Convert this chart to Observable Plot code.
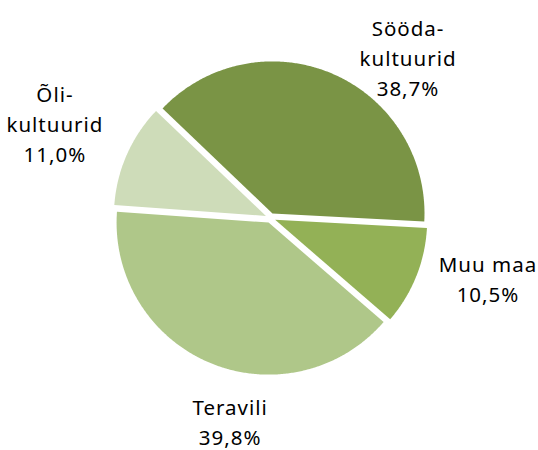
<!DOCTYPE html>
<html><head><meta charset="utf-8">
<script src="https://cdn.jsdelivr.net/npm/d3@7"></script>
<script src="https://cdn.jsdelivr.net/npm/@observablehq/plot@0.6"></script>
<style>body{margin:0;background:#fff}</style>
</head><body><div id="chart"></div>
<script>
// ---- data ----
const categories = ["Sööda-\nkultuurid", "Muu maa", "Teravili", "Õli-\nkultuurid"];
const shares = [38.7, 10.5, 39.8, 11.0];
const colors = ["#7A9445", "#93B156", "#AFC789", "#CEDCB9"];

// ---- layout ----
const W = 538, H = 450;
const cx = 270, cy = 217.5, R = 152;   // pie centre and radius, px
const startDeg = -46.3;                 // first slice start, clockwise from 12 o'clock
const explodePx = 5;
const labelPolar = [[40.66, 210.3], [105.7, 225.4], [191.3, 208.6], [293.4, 235.4]]; // [angle deg, radius px]

const rad = d => d * Math.PI / 180;
const total = d3.sum(shares);
let acc = startDeg;
const slices = shares.map((v, i) => {
  const a0 = acc, a1 = acc + v / total * 360; acc = a1;
  return {i, a0, a1, mid: (a0 + a1) / 2};
});

// outline vertices of each exploded slice (unit radius)
const outline = [];
for (const s of slices) {
  const ox = explodePx / R * Math.sin(rad(s.mid)), oy = explodePx / R * Math.cos(rad(s.mid));
  outline.push({cat: categories[s.i], x: ox, y: oy});
  const n = Math.ceil((s.a1 - s.a0) * 2);
  for (let k = 0; k <= n; k++) {
    const a = rad(s.a0 + (s.a1 - s.a0) * k / n);
    outline.push({cat: categories[s.i], x: ox + Math.sin(a), y: oy + Math.cos(a)});
  }
}

const fmt = v => v.toFixed(1).replace(".", ",") + "%";
const labels = slices.map(s => ({
  text: categories[s.i] + "\n" + fmt(shares[s.i]),
  x: Math.sin(rad(labelPolar[s.i][0])) * labelPolar[s.i][1] / R,
  y: Math.cos(rad(labelPolar[s.i][0])) * labelPolar[s.i][1] / R
}));

const chart = Plot.plot({
  width: W, height: H, margin: 0,
  style: {background: "white", fontFamily: "Noto Sans", letterSpacing: "1px"},
  x: {domain: [-cx / R, (W - cx) / R], range: [0, W], axis: null},
  y: {domain: [-(H - cy) / R, cy / R], range: [H, 0], axis: null},
  color: {domain: categories, range: colors},
  marks: [
    Plot.line(outline, {x: "x", y: "y", z: "cat", fill: "cat", stroke: "none", curve: "linear-closed"}),
    Plot.text(labels, {x: "x", y: "y", text: "text", fontSize: 20.5, lineHeight: 1.46, dx: 0.5, dy: -2,
      fill: "#000", textAnchor: "middle", lineAnchor: "middle", fontFamily: "Noto Sans"})
  ]
});
document.getElementById("chart").append(chart);
</script>
</body></html>
